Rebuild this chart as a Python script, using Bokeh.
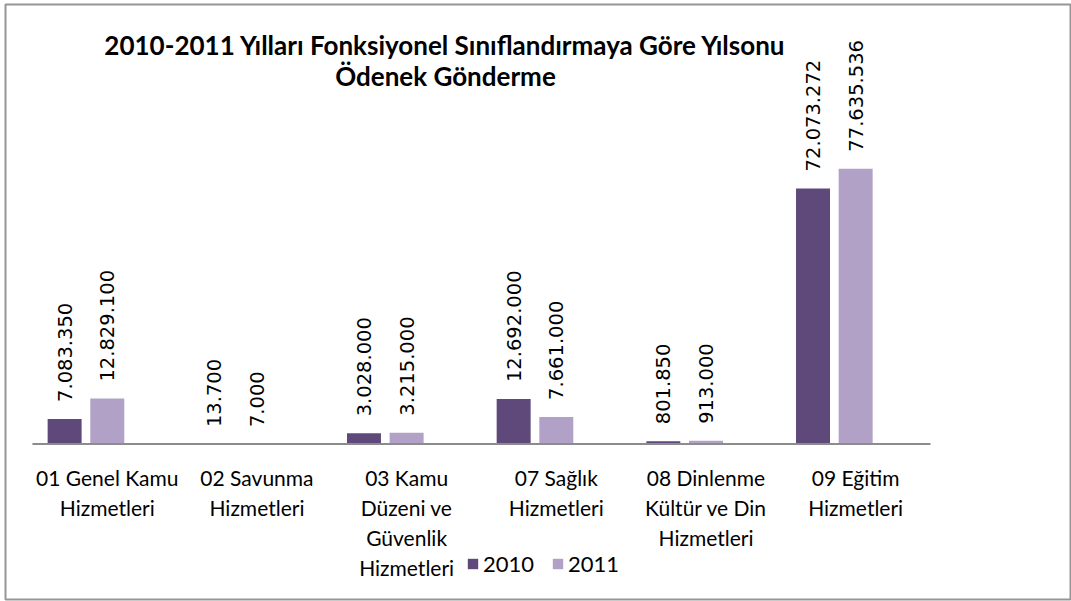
import math
from bokeh.plotting import figure
from bokeh.models import Range1d, Label, Legend, LegendItem, ColumnDataSource
from bokeh.core.properties import value
from bokeh.embed import file_html
from bokeh.resources import INLINE

categories = [
    "01 Genel Kamu\nHizmetleri",
    "02 Savunma\nHizmetleri",
    "03 Kamu\nDüzeni ve\nGüvenlik\nHizmetleri",
    "07 Sağlık\nHizmetleri",
    "08 Dinlenme\nKültür ve Din\nHizmetleri",
    "09 Eğitim\nHizmetleri",
]
series_names = ["2010", "2011"]
values_2010 = [7083350, 13700, 3028000, 12692000, 801850, 72073272]
values_2011 = [12829100, 7000, 3215000, 7661000, 913000, 77635536]
title_lines = ["2010-2011 Yılları Fonksiyonel Sınıflandırmaya Göre Yılsonu", "Ödenek Gönderme"]

colors = ["#5F497A", "#B2A1C7"]
offsets = [-0.285, 0.0]
bar_w = 0.227

W, H = 1071, 601
p = figure(width=W, height=H, output_backend="svg", toolbar_location=None,
           x_range=Range1d(-0.18, 6.942), y_range=Range1d(-43.8e6, 123.9e6),
           min_border=0, min_border_left=5, min_border_right=0,
           min_border_top=4, min_border_bottom=2)
p.axis.visible = False
p.grid.visible = False
p.outline_line_color = "#969696"
p.outline_line_width = 2
p.background_fill_color = "white"
p.border_fill_color = "white"

FRAME_H = H - 4 - 2
centers = [i + 0.5 for i in range(len(categories))]

def fmt(v):
    return f"{v:,}".replace(",", ".")

renderers = []
for name, vals, col, off in zip(series_names, [values_2010, values_2011], colors, offsets):
    src = ColumnDataSource(dict(x=[c + off for c in centers], top=vals,
                                lab=[fmt(v) for v in vals]))
    r = p.vbar(x="x", top="top", bottom=0, width=bar_w, source=src,
               fill_color=col, line_color=None)
    renderers.append(r)
    p.text(x="x", y="top", text="lab", source=src, angle=math.pi / 2,
           text_align="left", text_baseline="middle", y_offset=-17,
           text_font=value("DejaVu Sans"), text_font_size="19.5px", text_color="#000000")

# category axis line
p.segment(x0=[0], y0=[0], x1=[len(categories)], y1=[0], line_color="#8C8C8C", line_width=2)

# category labels
csrc = ColumnDataSource(dict(x=centers, y=[0] * len(centers), t=categories))
p.text(x="x", y="y", text="t", source=csrc, text_align="center", text_baseline="top",
       y_offset=21, text_font=value("Lato"), text_font_size="21px",
       text_line_height=1.2, text_color="#000000")

# title
for k, line in enumerate(title_lines):
    p.add_layout(Label(x=440, y=FRAME_H - 40 - 31 * k, x_units="screen", y_units="screen",
                       text=line, text_align="center", text_baseline="middle",
                       text_font="Lato", text_font_style="bold", text_font_size="26px",
                       text_color="#000000"))

legend = Legend(items=[LegendItem(label=n, renderers=[r]) for n, r in zip(series_names, renderers)],
                orientation="horizontal", location=(461, 22), padding=0, margin=0,
                spacing=17, label_standoff=4, glyph_width=13, glyph_height=13,
                border_line_color=None, background_fill_alpha=0,
                label_text_font="Lato", label_text_font_size="22px", label_text_color="#000000")
p.add_layout(legend, "center")

open("out.html", "w").write(file_html(p, INLINE))
